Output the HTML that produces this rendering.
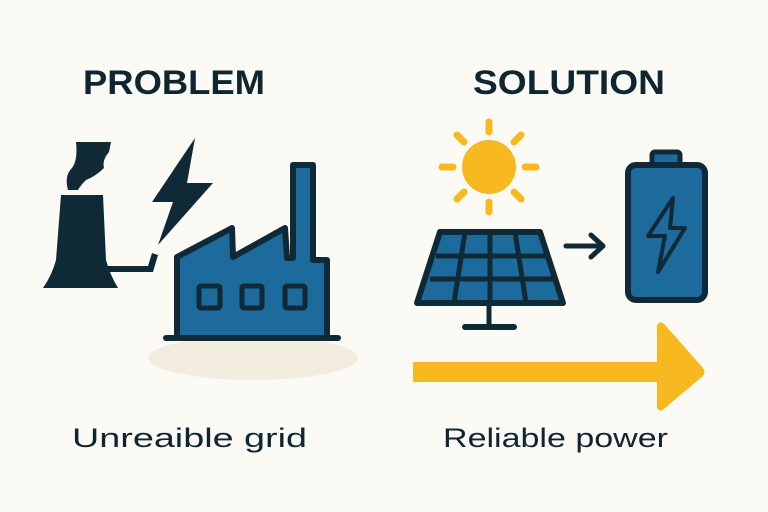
<!DOCTYPE html>
<html><head><style>
html,body{margin:0;padding:0;background:#fcfaf5;}
svg{display:block;}
</style></head><body>
<svg width="768" height="512" viewBox="0 0 768 512" xmlns="http://www.w3.org/2000/svg">
<rect width="768" height="512" fill="#fcfaf5"/>
<g font-family="Liberation Sans, sans-serif" fill="#0f2530">
<text x="83" y="94" font-size="34" font-weight="bold" textLength="182" lengthAdjust="spacingAndGlyphs">PROBLEM</text>
<text x="473" y="94" font-size="34" font-weight="bold" textLength="192" lengthAdjust="spacingAndGlyphs">SOLUTION</text>
<text x="72" y="447" font-size="27" textLength="235" lengthAdjust="spacingAndGlyphs">Unreaible grid</text>
<text x="443" y="447" font-size="27" textLength="225" lengthAdjust="spacingAndGlyphs">Reliable power</text>
</g>
<ellipse cx="253" cy="358" rx="105" ry="22" fill="#f3ede0"/>
<g fill="#0f2a36">
<path d="M76,142 L111,142 L109,152 Q102,160 104,168 Q96,176 86,180 Q80,186 78,190 L68,190 Q64,176 72,168 Q78,160 76,142Z"/>
<path d="M61,195 L103,195 L106,260 Q110,275 118,288 L43,288 Q52,275 56,260 Z"/>
<path d="M105,266 L148,266 L152,253 L158,255 L153,272 L105,272Z"/>
<path d="M195,138 L152,202 L173,202 L158,245 L213,183 L187,183 Z"/>
</g>
<path d="M177,257 L232,228 L233,257 L285,228 L287,258 L293,258 L293,165 L313,165 L313,260 L327,260 L327,338 L177,338 Z" fill="#1d6a9c" stroke="#0f2a36" stroke-width="6" stroke-linejoin="round"/>
<line x1="166" y1="338" x2="338" y2="338" stroke="#0f2a36" stroke-width="6" stroke-linecap="round"/>
<g fill="#1d6a9c" stroke="#0f2a36" stroke-width="5">
<rect x="199" y="286" width="21" height="22" rx="2"/>
<rect x="242" y="286" width="20" height="22" rx="2"/>
<rect x="285" y="286" width="20" height="22" rx="2"/>
</g>
<circle cx="489" cy="167" r="27" fill="#f8b820"/>
<g stroke="#f8b820" stroke-width="7" stroke-linecap="round">
<line x1="489" y1="122" x2="489" y2="132"/>
<line x1="489" y1="202" x2="489" y2="212"/>
<line x1="442" y1="167" x2="453" y2="167"/>
<line x1="525" y1="167" x2="536" y2="167"/>
<line x1="457" y1="135" x2="464" y2="142"/>
<line x1="514" y1="192" x2="521" y2="199"/>
<line x1="521" y1="135" x2="514" y2="142"/>
<line x1="464" y1="192" x2="457" y2="199"/>
</g>
<path d="M440,232 L540,232 L563,303 L417,303 Z" fill="#1d6a9c" stroke="#0f2a36" stroke-width="6" stroke-linejoin="round"/>
<g stroke="#0f2a36" stroke-width="5">
<line x1="436" y1="256" x2="547" y2="256"/>
<line x1="430" y1="279" x2="555" y2="279"/>
<line x1="465" y1="232" x2="454" y2="303"/>
<line x1="490" y1="232" x2="490" y2="303"/>
<line x1="515" y1="232" x2="526" y2="303"/>
<line x1="489" y1="303" x2="489" y2="327"/>
</g>
<line x1="465" y1="327" x2="514" y2="327" stroke="#0f2a36" stroke-width="6" stroke-linecap="round"/>
<g stroke="#0f2a36" stroke-width="5" fill="none" stroke-linecap="round" stroke-linejoin="round">
<line x1="566" y1="246" x2="602" y2="246"/>
<polyline points="591,235 603,246 591,257"/>
</g>
<rect x="652" y="152" width="28" height="15" rx="3" fill="#1d6a9c" stroke="#0f2a36" stroke-width="5"/>
<rect x="628" y="165" width="77" height="135" rx="8" fill="#1d6a9c" stroke="#0f2a36" stroke-width="6"/>
<path d="M673,198 L648,236 L665,236 L658,272 L685,228 L670,228 Z" fill="none" stroke="#0f2a36" stroke-width="4" stroke-linejoin="round"/>
<path d="M413,362 L657,362 L657,325 Q660,320 665,325 L703,368 Q706,372 703,376 L665,408 Q660,413 657,408 L657,382 L413,382 Z" fill="#f8b820"/>
</svg>
</body></html>
